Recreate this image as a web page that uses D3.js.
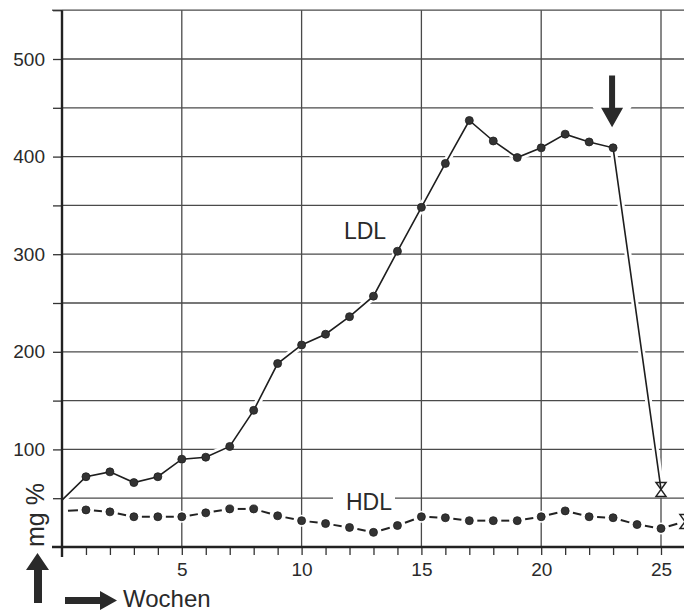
<!DOCTYPE html>
<html>
<head>
<meta charset="utf-8">
<script src="https://cdn.jsdelivr.net/npm/d3@7"></script>
<style>
  body { margin: 0; background: #fff; }
  svg { display: block; }
  text { font-family: "Liberation Sans", Arial, sans-serif; fill: #2a2a2a; }
</style>
</head>
<body>
<div id="chart"></div>
<script>
const width = 684, height = 615;

// Wochen 0..23 (LDL), Endwert in Woche 25
const ldlWeeks  = [0, 1, 2, 3, 4, 5, 6, 7, 8, 9, 10, 11, 12, 13, 14, 15, 16, 17, 18, 19, 20, 21, 22, 23];
const ldlValues = [48, 72, 77, 66, 72, 90, 92, 103, 140, 188, 207, 218, 236, 257, 303, 348, 393, 437, 416, 399, 409, 423, 415, 409];
const ldlEnd = {week: 25, value: 59};

const hdlWeeks  = [0, 1, 2, 3, 4, 5, 6, 7, 8, 9, 10, 11, 12, 13, 14, 15, 16, 17, 18, 19, 20, 21, 22, 23, 24, 25];
const hdlValues = [37, 38, 36, 31, 31, 31, 35, 39, 39, 32, 27, 24, 20, 15, 22, 31, 30, 27, 27, 27, 31, 37, 31, 30, 23, 19];
const hdlEnd = {week: 26, value: 26};

const yTicks = [50, 100, 150, 200, 250, 300, 350, 400, 450, 500, 550];
const yLabels = [100, 200, 300, 400, 500];
const xTicks = d3.range(1, 26);
const xLabels = [5, 10, 15, 20, 25];
const xGrid = [5, 10, 15, 20, 25];

const svg = d3.select('#chart').append('svg')
    .attr('width', width)
    .attr('height', height);

const x = d3.scaleLinear().domain([0, 25]).range([62, 661]);
const y = d3.scaleLinear().domain([0, 500]).range([547, 59]);

const line = d3.line().x(d => x(d[0])).y(d => y(d[1]));
const ldl = ldlWeeks.map((w, i) => [w, ldlValues[i]]);
const hdl = hdlWeeks.map((w, i) => [w, hdlValues[i]]);

// gitter
const grid = svg.append('g').attr('stroke', '#4a4a4a').attr('stroke-width', 1.3);
grid.selectAll('.hg').data(yTicks).join('line')
    .attr('x1', x(0)).attr('x2', width)
    .attr('y1', d => y(d)).attr('y2', d => y(d));
grid.selectAll('.vg').data(xGrid).join('line')
    .attr('x1', d => x(d)).attr('x2', d => x(d))
    .attr('y1', y(550)).attr('y2', y(0));
// oberste linie reicht links über die achse
svg.append('line').attr('stroke', '#4a4a4a').attr('stroke-width', 1.3)
    .attr('x1', 52).attr('x2', x(0)).attr('y1', y(550)).attr('y2', y(550));

// weiße aussparungen um die kurven
const ldlAll = ldl.concat([[ldlEnd.week, ldlEnd.value]]);
svg.append('path').datum(ldlAll)
    .attr('d', line).attr('fill', 'none')
    .attr('stroke', '#fff').attr('stroke-width', 7);
svg.selectAll('.halo-dot').data(hdl.slice(1)).join('circle')
    .attr('cx', d => x(d[0])).attr('cy', d => y(d[1])).attr('r', 6).attr('fill', '#fff');
svg.append('circle').attr('cx', x(ldlEnd.week)).attr('cy', y(ldlEnd.value)).attr('r', 8).attr('fill', '#fff');

// achsen
const yAxis = d3.axisLeft(y).tickValues(yTicks).tickSize(9).tickPadding(8)
    .tickFormat(d => yLabels.includes(d) ? d : '');
const gy = svg.append('g').attr('transform', `translate(${x(0)},0)`).call(yAxis);
gy.select('.domain').remove();
gy.selectAll('.tick line').attr('stroke', '#333').attr('stroke-width', 1.3);
gy.selectAll('.tick text').attr('font-size', 19).attr('fill', '#333');

const xAxis = d3.axisBottom(x).tickValues(xTicks).tickSize(8).tickPadding(8)
    .tickFormat(d => xLabels.includes(d) ? d : '');
const gx = svg.append('g').attr('transform', `translate(0,${y(0)})`).call(xAxis);
gx.select('.domain').remove();
gx.selectAll('.tick line').attr('stroke', '#333').attr('stroke-width', 1.3);
gx.selectAll('.tick text').attr('font-size', 19).attr('fill', '#333');

svg.append('line').attr('stroke', '#222').attr('stroke-width', 2.4)
    .attr('x1', x(0)).attr('x2', x(0)).attr('y1', y(550)).attr('y2', y(0) + 10);
svg.append('line').attr('stroke', '#222').attr('stroke-width', 2.4)
    .attr('x1', 52).attr('x2', width).attr('y1', y(0)).attr('y2', y(0));

// LDL
svg.append('path').datum(ldlAll)
    .attr('d', line).attr('fill', 'none')
    .attr('stroke', '#1e1e1e').attr('stroke-width', 1.6);
svg.selectAll('.ldl-dot').data(ldl.slice(1)).join('circle')
    .attr('cx', d => x(d[0])).attr('cy', d => y(d[1])).attr('r', 4)
    .attr('fill', '#333').attr('stroke', '#1e1e1e').attr('stroke-width', 0.8);

// HDL gestrichelt: ein strich zwischen zwei punkten
const hdlAll = hdl.concat([[hdlEnd.week, hdlEnd.value]]);
const segs = d3.pairs(hdlAll).map(([a, b]) => {
    const x0 = x(a[0]), y0 = y(a[1]), x1 = x(b[0]), y1 = y(b[1]);
    const len = Math.hypot(x1 - x0, y1 - y0);
    const ux = (x1 - x0) / len, uy = (y1 - y0) / len;
    const s = a[0] === 0 ? 6 : 8;
    return [x0 + ux * s, y0 + uy * s, x1 - ux * 8, y1 - uy * 8];
});
svg.selectAll('.hdl-seg').data(segs).join('line')
    .attr('x1', d => d[0]).attr('y1', d => d[1])
    .attr('x2', d => d[2]).attr('y2', d => d[3])
    .attr('stroke', '#222').attr('stroke-width', 2);
svg.selectAll('.hdl-dot').data(hdl.slice(1)).join('circle')
    .attr('cx', d => x(d[0])).attr('cy', d => y(d[1])).attr('r', 4)
    .attr('fill', '#333').attr('stroke', '#1e1e1e').attr('stroke-width', 0.8);

// x-förmige endmarken
const xMark = 'M-5,-7H5L-5,7H5Z';
[[ldlEnd.week, ldlEnd.value], [hdlEnd.week, hdlEnd.value]].forEach(d => {
    svg.append('path')
        .attr('d', xMark)
        .attr('transform', `translate(${x(d[0])},${y(d[1])})`)
        .attr('fill', 'none').attr('stroke', '#222').attr('stroke-width', 1.5);
});

// beschriftungen
svg.append('text').attr('x', 365).attr('y', 239)
    .attr('text-anchor', 'middle').attr('font-size', 23).text('LDL');
svg.append('rect').attr('x', 333).attr('y', 490).attr('width', 62).attr('height', 22).attr('fill', '#fff');
svg.append('text').attr('x', 369).attr('y', 510)
    .attr('text-anchor', 'middle').attr('font-size', 23).text('HDL');

// pfeil nach unten bei woche 23
const ax = x(23) - 1, aTop = y(483), aBase = y(450), aTip = y(430);
const arrowDown = `M${ax - 3},${aTop}H${ax + 3}V${aBase}H${ax + 11}L${ax},${aTip}L${ax - 11},${aBase}H${ax - 3}Z`;
svg.append('path').attr('d', arrowDown).attr('fill', '#fff').attr('stroke', '#fff').attr('stroke-width', 14);
svg.append('path').attr('d', arrowDown).attr('fill', '#2a2a2a');

// achsentitel
svg.append('text')
    .attr('transform', 'translate(44,515) rotate(-90)')
    .attr('text-anchor', 'middle').attr('font-size', 25).text('mg %');
svg.append('path')
    .attr('d', 'M34,603V570H26L37.5,553L49,570H42V603Z')
    .attr('fill', '#2a2a2a');
svg.append('path')
    .attr('d', 'M65,597H100V591L117,600.5L100,610V604H65Z')
    .attr('fill', '#2a2a2a');
svg.append('text').attr('x', 123).attr('y', 607)
    .attr('font-size', 24).text('Wochen');
</script>
</body>
</html>
